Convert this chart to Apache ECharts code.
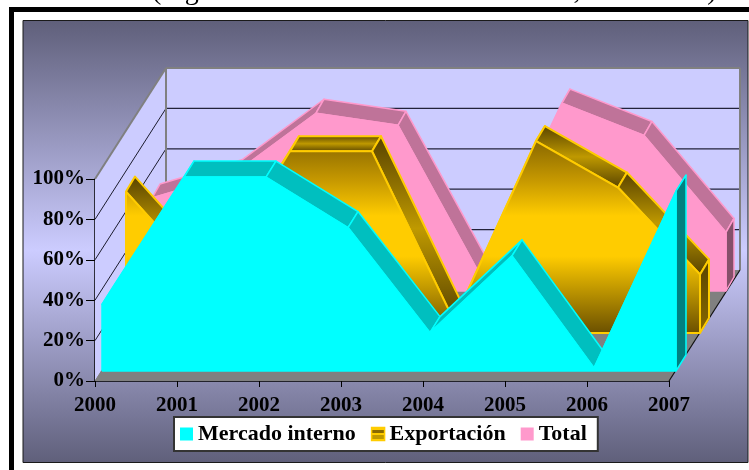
<!DOCTYPE html>
<html><head><meta charset="utf-8">
<style>html,body{margin:0;padding:0;background:#fff}#c{width:749px;height:470px}</style>
<script src="https://cdn.jsdelivr.net/npm/echarts@6/dist/echarts.min.js"></script>
</head><body><div id="c"></div>
<script>
const years = ['2000','2001','2002','2003','2004','2005','2006','2007'];
const mercadoInterno = [33,96,96,71,19,57,1.5,89];
const exportacion = [70,25,90,90,6,95,72,29];
const total = [46,58,88,82,8,93,77,29];
const yTicks = [0,20,40,60,80,100];
const titleText = '(según destino de la comercialización, 2000/2007)';

const FONT = '"Liberation Serif","Times New Roman",serif';
const WALL = [71,-111];
const grad = (stops,x2=0,y2=1)=>({type:'linear',x:0,y:0,x2,y2,colorStops:stops.map((c,i)=>({offset:c[0],color:c[1]}))});
const goldBevel = grad([[0,'#574200'],[0.5,'#bf9900'],[1,'#574200']]);

const chart = echarts.init(document.getElementById('c'),null,{renderer:'canvas'});

function poly(points,style,z2){return {type:'polygon',shape:{points},style,z2,silent:true};}
function line(a,b,stroke,lineWidth){return {type:'line',shape:{x1:a[0],y1:a[1],x2:b[0],y2:b[1]},style:{stroke,lineWidth,fill:null},z2:5,silent:true};}
const shift=(p,o)=>[p[0]+o[0],p[1]+o[1]];

function wallsItem(params,api){
  const c=(i,v)=>api.coord([i,v]);
  const last=years.length-1;
  const a=c(0,0),b=c(0,100),d=c(last,0);
  const ch=[];
  ch.push(poly([a,b,shift(b,WALL),shift(a,WALL)],{fill:'#ccccff'},1));
  ch.push(poly([shift(a,WALL),shift(b,WALL),shift(c(last,100),WALL),shift(d,WALL)],{fill:'#ccccff'},1));
  ch.push(poly([a,d,shift(d,WALL),shift(a,WALL)],{fill:'#808080'},2));
  yTicks.forEach(t=>{
    if(t===0)return;
    const f=c(0,t),g=shift(f,WALL),h=shift(c(last,t),WALL);
    if(t<100){
      ch.push(line(f,g,'#1c1c2e',1));
      ch.push(line(g,h,'#22223a',1.3));
    }
  });
  ch.push(line(b,shift(b,WALL),'#808080',2));
  ch.push(line(shift(b,WALL),shift(c(last,100),WALL),'#808080',2));
  ch.push(line(shift(a,WALL),shift(b,WALL),'#808080',2));
  ch.push(line(shift(d,WALL),shift(c(last,100),WALL),'#808080',2));
  ch.push(line(a,shift(a,WALL),'#808080',1));
  ch.push(line(d,shift(d,WALL),'#111',1.2));
  return {type:'group',children:ch};
}

function bandItem(cfg){
  return function(params,api){
    const i=api.value(0),v0=api.value(1),v1=api.value(2);
    const F=cfg.front,B=cfg.back;
    const t0=api.coord([i,v0]),t1=api.coord([i+1,v1]),b0=api.coord([i,0]),b1=api.coord([i+1,0]);
    const top=api.coord([0,100])[1],base=api.coord([0,0])[1];
    const ft0=shift(t0,F),ft1=shift(t1,F),fb0=shift(b0,F),fb1=shift(b1,F);
    const bt0=shift(t0,B),bt1=shift(t1,B),bb1=shift(b1,B);
    const ch=[];
    ch.push(poly([ft0,ft1,bt1,bt0],{fill:cfg.bevel,stroke:cfg.edge,lineWidth:cfg.edgeW,lineJoin:'round'},1));
    const faceFill=cfg.face(top+F[1],base+F[1]);
    ch.push(poly([fb0,ft0,ft1,fb1],{fill:faceFill},2));
    ch.push(line(ft0,ft1,cfg.edge,cfg.edgeW));
    ch.push(line(fb0,fb1,cfg.edge,cfg.edgeW));
    if(i===0){ch.push(line(fb0,ft0,cfg.edge,cfg.edgeW));}
    if(i===years.length-2){
      ch.push(poly([ft1,bt1,bb1,fb1],{fill:cfg.side,stroke:cfg.edge,lineWidth:cfg.edgeW,lineJoin:'round'},3));
      ch.push(line(ft1,fb1,cfg.edge,cfg.edgeW));
    }
    return {type:'group',children:ch};
  };
}
const segments=arr=>arr.slice(0,-1).map((v,i)=>[i,v,arr[i+1]]);

const bands=[
 {name:'Total',arr:total,color:'#ff99cc',cfg:{front:[57,-90],back:[65,-104],bevel:'#bf7399',side:'#85506a',edge:'#ff99cc',edgeW:1.5,face:()=>'#ff99cc'}},
 {name:'Exportación',arr:exportacion,color:'#ffcc00',cfg:{front:[31,-48],back:[40,-63],bevel:goldBevel,side:grad([[0,'#574200'],[1,'#8a6a00']]),edge:'#ffcc00',edgeW:2,
   face:(y0,y1)=>({type:'linear',x:0,y:y0,x2:0,y2:y1,global:true,colorStops:[{offset:0,color:'#7a5c00'},{offset:0.25,color:'#c89a00'},{offset:0.42,color:'#ffcc00'},{offset:0.62,color:'#ffcc00'},{offset:1,color:'#6b5000'}]})}},
 {name:'Mercado interno',arr:mercadoInterno,color:'#00ffff',cfg:{front:[7,-10],back:[17,-26],bevel:'#00bfbf',side:'#008080',edge:'#00ffff',edgeW:1.5,face:()=>'#00ffff'}}
];

const series=[{type:'custom',name:'walls',silent:true,z:1,data:[[0,0]],renderItem:wallsItem,clip:false,encode:{x:0,y:1}}];
bands.forEach((b,k)=>series.push({type:'custom',name:b.name,z:2+k,silent:true,clip:false,itemStyle:{color:b.color},
  data:segments(b.arr),encode:{x:0,y:1},dimensions:['i','v0','v1'],renderItem:bandItem(b.cfg)}));

chart.setOption({
  animation:false,
  backgroundColor:'#fff',
  title:{text:titleText,left:152,top:-22,padding:0,textStyle:{fontFamily:FONT,fontSize:28,fontWeight:'normal',color:'#000'}},
  graphic:[
    {type:'rect',z:-10,shape:{x:9,y:7,width:740,height:463},style:{fill:'#000'}},
    {type:'rect',z:-9,shape:{x:14,y:12,width:735,height:458},style:{fill:'#fff'}},
    {type:'rect',z:-8,shape:{x:23,y:20.5,width:725,height:442},
      style:{fill:grad([[0,'#5f5f7a'],[0.52,'#ccccff'],[1,'#5f5f7a']]),stroke:'#1a1a1a',lineWidth:1}}
  ],
  grid:{left:95,top:179,width:574,height:202,containLabel:false},
  xAxis:{type:'category',data:years,boundaryGap:false,
    axisLine:{show:true,lineStyle:{color:'#000',width:1.5}},
    axisTick:{show:true,alignWithLabel:true,length:6,lineStyle:{color:'#000'}},
    axisLabel:{interval:0,margin:14,color:'#000',fontFamily:FONT,fontWeight:'bold',fontSize:21},splitLine:{show:false}},
  yAxis:{type:'value',min:0,max:100,interval:20,
    axisLine:{show:true,lineStyle:{color:'#000',width:1.5}},
    axisTick:{show:true,length:9,lineStyle:{color:'#000'}},
    axisLabel:{margin:10,color:'#000',fontFamily:FONT,fontWeight:'bold',fontSize:21,formatter:'{value}%'},splitLine:{show:false}},
  legend:{left:174,top:417,orient:'horizontal',selectedMode:false,
    backgroundColor:'#fff',borderColor:'#333',borderWidth:2,borderRadius:0,padding:[6,11,6,6],itemGap:15,itemWidth:13,itemHeight:13,
    textStyle:{fontFamily:FONT,fontWeight:'bold',fontSize:22,color:'#000'},
    data:[
      {name:'Mercado interno',icon:'rect',itemStyle:{color:'#00ffff'}},
      {name:'Exportación',icon:'rect',itemStyle:{borderColor:'#ffcc00',borderWidth:1.5,color:grad([[0,'#ffcc00'],[0.2,'#ffcc00'],[0.2,'#8a6a00'],[0.4,'#8a6a00'],[0.4,'#ffcc00'],[0.6,'#ffcc00'],[0.6,'#bf9900'],[0.85,'#bf9900'],[0.85,'#ffcc00'],[1,'#ffcc00']])}},
      {name:'Total',icon:'rect',itemStyle:{color:'#ff99cc'}}
    ]},
  series
});
</script></body></html>
